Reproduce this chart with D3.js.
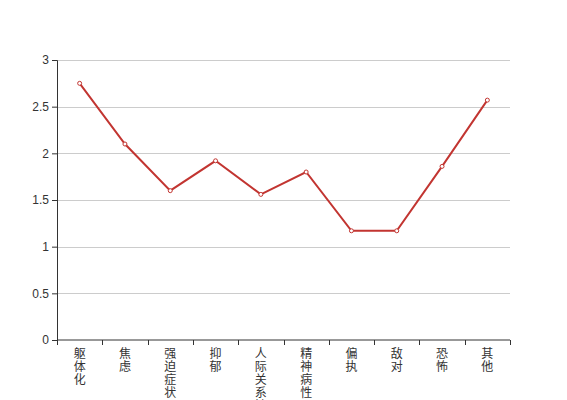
<!DOCTYPE html>
<html lang="zh">
<head>
<meta charset="UTF-8">
<title>chart</title>
<script src="https://d3js.org/d3.v7.min.js"></script>
<style>
  body { margin: 0; background: #fff; }
  svg { display: block; font-family: "Noto Sans CJK SC", sans-serif; }
</style>
</head>
<body>
<div id="chart"></div>
<script>
// data
var categories = ["躯体化", "焦虑", "强迫症状", "抑郁", "人际关系敏感", "精神病性", "偏执", "敌对", "恐怖", "其他"];
var values = [2.75, 2.1, 1.6, 1.92, 1.56, 1.8, 1.17, 1.17, 1.86, 2.57];
var yTicks = [0, 0.5, 1, 1.5, 2, 2.5, 3];

var W = 567, H = 400;
var margin = {top: 60, right: 57, bottom: 60, left: 57};
var width = W - margin.left - margin.right,
    height = H - margin.top - margin.bottom;

var svg = d3.select("#chart").append("svg")
    .attr("width", W).attr("height", H);
var g = svg.append("g")
    .attr("transform", "translate(" + margin.left + "," + margin.top + ")");

var x = d3.scaleBand().domain(categories).range([0, width]);
var y = d3.scaleLinear().domain([0, 3]).range([height, 0]);

// grid lines
g.selectAll("line.grid")
  .data(yTicks.filter(function(d) { return d > 0; }))
  .enter().append("line")
    .attr("class", "grid")
    .attr("x1", 0).attr("x2", width)
    .attr("y1", function(d) { return Math.round(y(d)) + 0.5; })
    .attr("y2", function(d) { return Math.round(y(d)) + 0.5; })
    .attr("stroke", "#ccc");

// y axis
var yAxis = g.append("g")
    .call(d3.axisLeft(y).tickValues(yTicks).tickSize(5).tickPadding(3).tickFormat(d3.format("")));
yAxis.select(".domain").attr("stroke", "#333");
yAxis.selectAll(".tick line").attr("stroke", "#333");
yAxis.selectAll("text").attr("fill", "#333").style("font-size", "12px")
    .style("font-family", "sans-serif");

// x axis
var xAxis = g.append("g")
    .attr("transform", "translate(0," + height + ")")
    .call(d3.axisBottom(x).tickSize(0).tickFormat(""));
xAxis.select(".domain").attr("stroke", "#333").attr("d", "M0.5,0H" + width);
// boundary ticks
g.append("g").selectAll("line")
  .data(d3.range(categories.length + 1))
  .enter().append("line")
    .attr("x1", function(i) { return Math.round(i * x.step()) + 0.5; })
    .attr("x2", function(i) { return Math.round(i * x.step()) + 0.5; })
    .attr("y1", height).attr("y2", height + 5)
    .attr("stroke", "#333");

// vertical labels, one character per line
var lab = g.append("g").selectAll("text")
  .data(categories)
  .enter().append("text")
    .attr("x", function(d) { return x(d) + x.bandwidth() / 2; })
    .attr("y", height + 18)
    .attr("text-anchor", "middle")
    .attr("fill", "#333")
    .style("font-size", "12px");
lab.each(function(d) {
  var t = d3.select(this);
  d.split("").forEach(function(c, i) {
    t.append("tspan")
      .attr("x", x(d) + x.bandwidth() / 2)
      .attr("dy", i === 0 ? 0 : 13)
      .text(c);
  });
});

// line
var line = d3.line()
  .x(function(d, i) { return x(categories[i]) + x.bandwidth() / 2; })
  .y(function(d) { return y(d); });

g.append("path")
  .datum(values)
  .attr("d", line)
  .attr("fill", "none")
  .attr("stroke", "#c23531")
  .attr("stroke-width", 2);

g.selectAll("circle")
  .data(values)
  .enter().append("circle")
    .attr("cx", function(d, i) { return x(categories[i]) + x.bandwidth() / 2; })
    .attr("cy", function(d) { return y(d); })
    .attr("r", 2)
    .attr("fill", "#fff")
    .attr("stroke", "#c23531")
    .attr("stroke-width", 1);
</script>
</body>
</html>
